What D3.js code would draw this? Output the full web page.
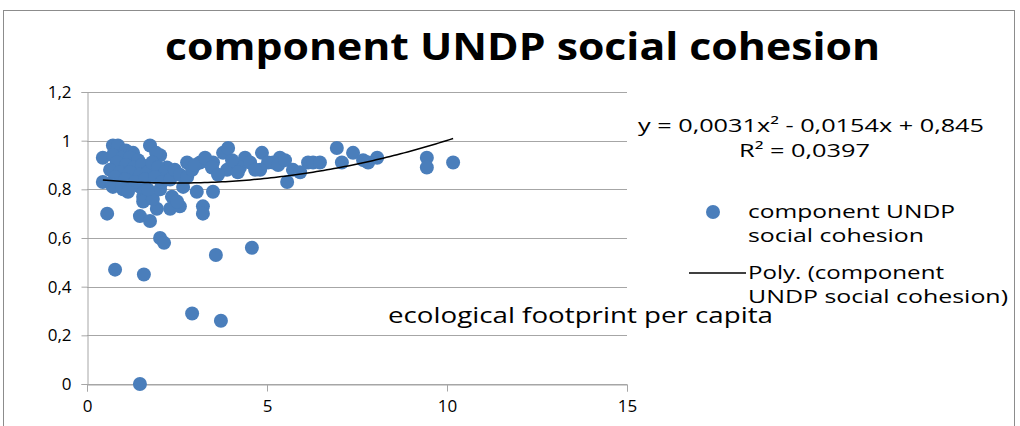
<!DOCTYPE html>
<html>
<head>
<meta charset="utf-8">
<script src="https://cdn.jsdelivr.net/npm/d3@7"></script>
<style>
  body { margin: 0; background: #fff; }
  svg { display: block; }
  text { font-family: "Open Sans", sans-serif; fill: #000; }
</style>
</head>
<body>
<div id="chart"></div>
<script>
// ecological footprint per capita (x) for each country
const footprint = [
  0.44, 0.56, 0.78, 1.58, 1.47, 2.92, 3.72, 3.58, 4.58, 2.03,
  2.14, 1.47, 1.75, 3.05, 3.50, 3.22, 3.22, 2.67, 2.31, 2.58,
  1.94, 1.56, 1.56, 1.83, 2.03, 1.47, 0.72, 1.00, 0.44, 0.72,
  1.75, 2.03, 3.78, 4.39, 4.86, 5.36, 5.56, 6.14, 2.22, 2.78,
  3.14, 3.50, 3.89, 4.25, 5.17, 5.72, 6.94, 7.39, 6.28, 6.47,
  7.08, 7.67, 8.06, 7.81, 5.92, 9.44, 9.44, 10.17, 5.03, 4.81,
  0.86, 1.08, 1.28, 0.72, 0.97, 1.19, 1.42, 0.83, 1.08, 1.31,
  1.53, 0.64, 0.92, 1.19, 1.47, 1.69, 0.78, 1.06, 1.33, 1.61,
  0.69, 0.97, 1.92, 1.81, 1.97, 2.17, 1.89, 2.08, 2.31, 2.44,
  2.58, 2.78, 2.92, 3.00, 3.28, 3.47, 3.64, 4.03, 4.19, 4.53,
  4.67, 5.31, 5.50, 1.14, 1.69, 2.36, 2.50, 3.92
];
// component UNDP social cohesion (y) for each country
const cohesion = [
  0.83, 0.70, 0.47, 0.45, 0.00, 0.29, 0.26, 0.53, 0.56, 0.60,
  0.58, 0.69, 0.67, 0.79, 0.79, 0.73, 0.70, 0.81, 0.72, 0.73,
  0.72, 0.77, 0.75, 0.76, 0.80, 0.81, 0.81, 0.80, 0.93, 0.98,
  0.98, 0.94, 0.95, 0.93, 0.95, 0.93, 0.83, 0.91, 0.89, 0.91,
  0.91, 0.91, 0.88, 0.89, 0.91, 0.88, 0.97, 0.95, 0.91, 0.91,
  0.91, 0.92, 0.93, 0.91, 0.87, 0.93, 0.89, 0.91, 0.91, 0.88,
  0.98, 0.96, 0.95, 0.94, 0.93, 0.93, 0.92, 0.91, 0.90, 0.89,
  0.90, 0.88, 0.87, 0.87, 0.86, 0.87, 0.85, 0.84, 0.83, 0.84,
  0.82, 0.81, 0.95, 0.91, 0.89, 0.87, 0.85, 0.83, 0.84, 0.88,
  0.86, 0.85, 0.88, 0.90, 0.93, 0.89, 0.86, 0.92, 0.87, 0.91,
  0.88, 0.90, 0.92, 0.79, 0.80, 0.77, 0.75, 0.97
];
// polynomial trend line coefficients: c0 + c1*x + c2*x^2
const trendCoefficients = [0.845, -0.0154, 0.0031];
const xTicks = [0, 5, 10, 15];
const yTicks = [0, 0.2, 0.4, 0.6, 0.8, 1, 1.2];

const chartTitle = "component UNDP social cohesion";
const xTitle = "ecological footprint per capita";
const seriesName = ["component UNDP", "social cohesion"];
const trendName = ["Poly. (component", "UNDP social cohesion)"];
const equation = ["y = 0,0031x² - 0,0154x + 0,845", "R² = 0,0397"];

const width = 1020, height = 426;
const margin = { left: 87, right: 393, top: 92, bottom: 42 };
const dotColor = "#4a7ebb";
const gridColor = "#a6a6a6";

const data = footprint.map((x, i) => ({ x: x, y: cohesion[i] }));

const svg = d3.select("#chart").append("svg")
  .attr("width", width)
  .attr("height", height);

// Chart frame
svg.append("rect")
  .attr("x", 3.5).attr("y", 10.5)
  .attr("width", 1011).attr("height", 430)
  .attr("fill", "none")
  .attr("stroke", "#8c8c8c");

const x = d3.scaleLinear()
  .domain([0, 15])
  .range([margin.left, width - margin.right]);

const y = d3.scaleLinear()
  .domain([0, 1.2])
  .range([height - margin.bottom, margin.top]);

const fmt = d => d3.format("~g")(d).replace(".", ",");

// The source picture is stretched sideways, so texts get a fixed length
function stretch(sel, lengths) {
  sel.attr("textLength", (d, i) => lengths[i])
    .attr("lengthAdjust", "spacingAndGlyphs");
}

// Horizontal gridlines
svg.append("g")
  .selectAll("line")
  .data(yTicks)
  .enter()
  .append("line")
  .attr("x1", x(0)).attr("x2", x(15))
  .attr("y1", d => Math.round(y(d)) + 0.5)
  .attr("y2", d => Math.round(y(d)) + 0.5)
  .attr("stroke", gridColor);

// Y axis
const yAxis = svg.append("g")
  .attr("transform", `translate(${Math.round(x(0)) + 0.5},0)`)
  .call(d3.axisLeft(y).tickValues(yTicks).tickFormat(fmt).tickSize(6).tickPadding(10));

// X axis
const xAxis = svg.append("g")
  .attr("transform", `translate(0,${Math.round(y(0)) + 0.5})`)
  .call(d3.axisBottom(x).tickValues(xTicks).tickFormat(fmt).tickSize(7).tickPadding(8));

[yAxis, xAxis].forEach(a => {
  a.select(".domain").attr("stroke", gridColor);
  a.selectAll(".tick line").attr("stroke", gridColor);
  a.selectAll(".tick text")
    .style("font-family", "'Open Sans', sans-serif")
    .style("font-size", "17px")
    .attr("fill", "#000");
});

// Scatter points
svg.append("g")
  .selectAll("circle")
  .data(data)
  .enter()
  .append("circle")
  .attr("cx", d => x(d.x))
  .attr("cy", d => y(d.y))
  .attr("r", 7)
  .attr("fill", dotColor);

// Polynomial trend line over the data range
const xExtent = d3.extent(footprint);
const trend = d3.range(0, 101).map(i => {
  const xv = xExtent[0] + (xExtent[1] - xExtent[0]) * i / 100;
  return { x: xv, y: trendCoefficients[0] + trendCoefficients[1] * xv + trendCoefficients[2] * xv * xv };
});

svg.append("path")
  .datum(trend)
  .attr("fill", "none")
  .attr("stroke", "#000")
  .attr("stroke-width", 1.5)
  .attr("d", d3.line().x(d => x(d.x)).y(d => y(d.y)));

// Title
svg.append("text")
  .datum(chartTitle)
  .attr("x", 165).attr("y", 60)
  .style("font-size", "38px")
  .style("font-weight", "bold")
  .text(d => d)
  .call(stretch, [715]);

// Axis title placed inside the plot as in the original
svg.append("text")
  .datum(xTitle)
  .attr("x", 388).attr("y", 323)
  .style("font-size", "21px")
  .text(d => d)
  .call(stretch, [385]);

// Trend equation
svg.append("g")
  .selectAll("text")
  .data(equation)
  .enter()
  .append("text")
  .attr("x", (d, i) => [638, 739][i])
  .attr("y", (d, i) => 132 + i * 25)
  .style("font-size", "18px")
  .text(d => d)
  .call(stretch, [346, 131]);

// Legend
const legend = svg.append("g");
legend.append("circle")
  .attr("cx", 713).attr("cy", 212).attr("r", 7)
  .attr("fill", dotColor);
legend.selectAll(".series")
  .data(seriesName)
  .enter()
  .append("text")
  .attr("class", "series")
  .attr("x", 748)
  .attr("y", (d, i) => 218 + i * 24)
  .style("font-size", "18px")
  .text(d => d)
  .call(stretch, [207, 176]);
legend.append("line")
  .attr("x1", 689).attr("x2", 746)
  .attr("y1", 273).attr("y2", 273)
  .attr("stroke", "#000").attr("stroke-width", 1.5);
legend.selectAll(".trend")
  .data(trendName)
  .enter()
  .append("text")
  .attr("class", "trend")
  .attr("x", 748)
  .attr("y", (d, i) => 279 + i * 24)
  .style("font-size", "18px")
  .text(d => d)
  .call(stretch, [196, 260]);
</script>
</body>
</html>
